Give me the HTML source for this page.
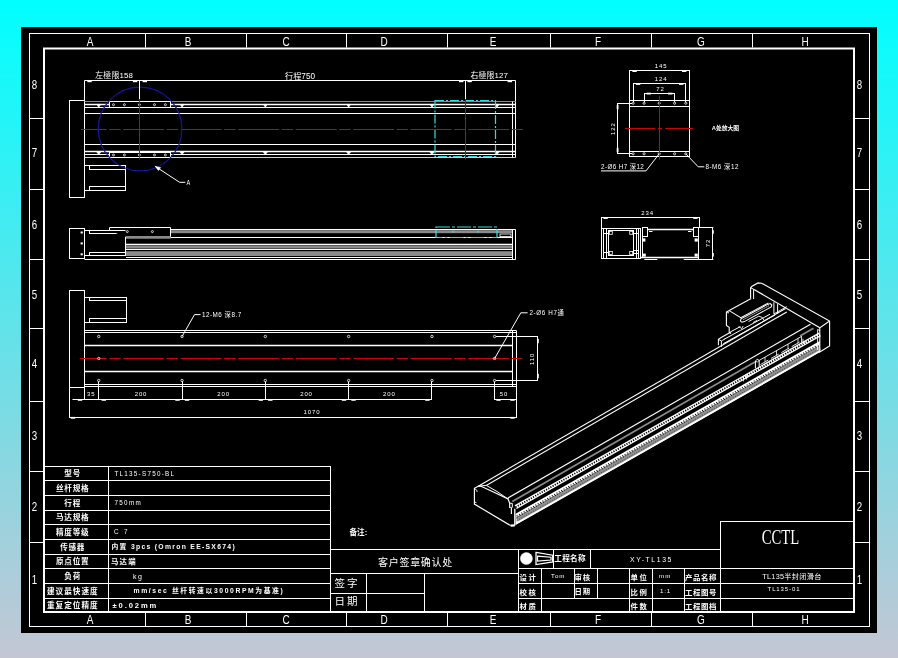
<!DOCTYPE html>
<html lang="zh">
<head>
<meta charset="utf-8">
<title>XY-TL135 TL135半封闭滑台</title>
<style>
html,body{margin:0;padding:0;}
body{width:898px;height:658px;overflow:hidden;background:linear-gradient(to bottom,#00ffff 0%,#c4c6d4 100%);}
svg{will-change:transform;display:block;position:absolute;left:0;top:0;}
text{white-space:pre;}
</style>
</head>
<body>
<svg width="898" height="658" viewBox="0 0 898 658">
<rect x="21" y="27" width="856" height="606" fill="#000"/>
<rect x="29.5" y="33.5" width="840" height="593" fill="none" stroke="#fff" stroke-width="1"/>
<rect x="44" y="48.5" width="810" height="563.5" fill="none" stroke="#fff" stroke-width="2"/>
<line x1="145.5" y1="33.5" x2="145.5" y2="47.5" stroke="#fff" stroke-width="1"/>
<line x1="145.5" y1="613" x2="145.5" y2="626" stroke="#fff" stroke-width="1"/>
<line x1="246.5" y1="33.5" x2="246.5" y2="47.5" stroke="#fff" stroke-width="1"/>
<line x1="246.5" y1="613" x2="246.5" y2="626" stroke="#fff" stroke-width="1"/>
<line x1="346.5" y1="33.5" x2="346.5" y2="47.5" stroke="#fff" stroke-width="1"/>
<line x1="346.5" y1="613" x2="346.5" y2="626" stroke="#fff" stroke-width="1"/>
<line x1="447.5" y1="33.5" x2="447.5" y2="47.5" stroke="#fff" stroke-width="1"/>
<line x1="447.5" y1="613" x2="447.5" y2="626" stroke="#fff" stroke-width="1"/>
<line x1="550.5" y1="33.5" x2="550.5" y2="47.5" stroke="#fff" stroke-width="1"/>
<line x1="550.5" y1="613" x2="550.5" y2="626" stroke="#fff" stroke-width="1"/>
<line x1="651.5" y1="33.5" x2="651.5" y2="47.5" stroke="#fff" stroke-width="1"/>
<line x1="651.5" y1="613" x2="651.5" y2="626" stroke="#fff" stroke-width="1"/>
<line x1="752.5" y1="33.5" x2="752.5" y2="47.5" stroke="#fff" stroke-width="1"/>
<line x1="752.5" y1="613" x2="752.5" y2="626" stroke="#fff" stroke-width="1"/>
<line x1="29.5" y1="118.5" x2="43" y2="118.5" stroke="#fff" stroke-width="1"/>
<line x1="855" y1="118.5" x2="869" y2="118.5" stroke="#fff" stroke-width="1"/>
<line x1="29.5" y1="189.5" x2="43" y2="189.5" stroke="#fff" stroke-width="1"/>
<line x1="855" y1="189.5" x2="869" y2="189.5" stroke="#fff" stroke-width="1"/>
<line x1="29.5" y1="259.5" x2="43" y2="259.5" stroke="#fff" stroke-width="1"/>
<line x1="855" y1="259.5" x2="869" y2="259.5" stroke="#fff" stroke-width="1"/>
<line x1="29.5" y1="328.5" x2="43" y2="328.5" stroke="#fff" stroke-width="1"/>
<line x1="855" y1="328.5" x2="869" y2="328.5" stroke="#fff" stroke-width="1"/>
<line x1="29.5" y1="401.5" x2="43" y2="401.5" stroke="#fff" stroke-width="1"/>
<line x1="855" y1="401.5" x2="869" y2="401.5" stroke="#fff" stroke-width="1"/>
<line x1="29.5" y1="471.5" x2="43" y2="471.5" stroke="#fff" stroke-width="1"/>
<line x1="855" y1="471.5" x2="869" y2="471.5" stroke="#fff" stroke-width="1"/>
<line x1="29.5" y1="542.5" x2="43" y2="542.5" stroke="#fff" stroke-width="1"/>
<line x1="855" y1="542.5" x2="869" y2="542.5" stroke="#fff" stroke-width="1"/>
<text font-size="12.5" fill="#fff" font-family='"Liberation Sans", "Noto Sans CJK SC", sans-serif' text-anchor="middle" transform="translate(90 45.6) scale(0.8 1)">A</text>
<text font-size="12.5" fill="#fff" font-family='"Liberation Sans", "Noto Sans CJK SC", sans-serif' text-anchor="middle" transform="translate(90 624) scale(0.8 1)">A</text>
<text font-size="12.5" fill="#fff" font-family='"Liberation Sans", "Noto Sans CJK SC", sans-serif' text-anchor="middle" transform="translate(188 45.6) scale(0.8 1)">B</text>
<text font-size="12.5" fill="#fff" font-family='"Liberation Sans", "Noto Sans CJK SC", sans-serif' text-anchor="middle" transform="translate(188 624) scale(0.8 1)">B</text>
<text font-size="12.5" fill="#fff" font-family='"Liberation Sans", "Noto Sans CJK SC", sans-serif' text-anchor="middle" transform="translate(286 45.6) scale(0.8 1)">C</text>
<text font-size="12.5" fill="#fff" font-family='"Liberation Sans", "Noto Sans CJK SC", sans-serif' text-anchor="middle" transform="translate(286 624) scale(0.8 1)">C</text>
<text font-size="12.5" fill="#fff" font-family='"Liberation Sans", "Noto Sans CJK SC", sans-serif' text-anchor="middle" transform="translate(384 45.6) scale(0.8 1)">D</text>
<text font-size="12.5" fill="#fff" font-family='"Liberation Sans", "Noto Sans CJK SC", sans-serif' text-anchor="middle" transform="translate(384 624) scale(0.8 1)">D</text>
<text font-size="12.5" fill="#fff" font-family='"Liberation Sans", "Noto Sans CJK SC", sans-serif' text-anchor="middle" transform="translate(493 45.6) scale(0.8 1)">E</text>
<text font-size="12.5" fill="#fff" font-family='"Liberation Sans", "Noto Sans CJK SC", sans-serif' text-anchor="middle" transform="translate(493 624) scale(0.8 1)">E</text>
<text font-size="12.5" fill="#fff" font-family='"Liberation Sans", "Noto Sans CJK SC", sans-serif' text-anchor="middle" transform="translate(598 45.6) scale(0.8 1)">F</text>
<text font-size="12.5" fill="#fff" font-family='"Liberation Sans", "Noto Sans CJK SC", sans-serif' text-anchor="middle" transform="translate(598 624) scale(0.8 1)">F</text>
<text font-size="12.5" fill="#fff" font-family='"Liberation Sans", "Noto Sans CJK SC", sans-serif' text-anchor="middle" transform="translate(701 45.6) scale(0.8 1)">G</text>
<text font-size="12.5" fill="#fff" font-family='"Liberation Sans", "Noto Sans CJK SC", sans-serif' text-anchor="middle" transform="translate(701 624) scale(0.8 1)">G</text>
<text font-size="12.5" fill="#fff" font-family='"Liberation Sans", "Noto Sans CJK SC", sans-serif' text-anchor="middle" transform="translate(805 45.6) scale(0.8 1)">H</text>
<text font-size="12.5" fill="#fff" font-family='"Liberation Sans", "Noto Sans CJK SC", sans-serif' text-anchor="middle" transform="translate(805 624) scale(0.8 1)">H</text>
<text font-size="12.5" fill="#fff" font-family='"Liberation Sans", "Noto Sans CJK SC", sans-serif' text-anchor="middle" transform="translate(34.5 89.3) scale(0.78 1)">8</text>
<text font-size="12.5" fill="#fff" font-family='"Liberation Sans", "Noto Sans CJK SC", sans-serif' text-anchor="middle" transform="translate(859.4 89.3) scale(0.78 1)">8</text>
<text font-size="12.5" fill="#fff" font-family='"Liberation Sans", "Noto Sans CJK SC", sans-serif' text-anchor="middle" transform="translate(34.5 156.7) scale(0.78 1)">7</text>
<text font-size="12.5" fill="#fff" font-family='"Liberation Sans", "Noto Sans CJK SC", sans-serif' text-anchor="middle" transform="translate(859.4 156.7) scale(0.78 1)">7</text>
<text font-size="12.5" fill="#fff" font-family='"Liberation Sans", "Noto Sans CJK SC", sans-serif' text-anchor="middle" transform="translate(34.5 228.8) scale(0.78 1)">6</text>
<text font-size="12.5" fill="#fff" font-family='"Liberation Sans", "Noto Sans CJK SC", sans-serif' text-anchor="middle" transform="translate(859.4 228.8) scale(0.78 1)">6</text>
<text font-size="12.5" fill="#fff" font-family='"Liberation Sans", "Noto Sans CJK SC", sans-serif' text-anchor="middle" transform="translate(34.5 299) scale(0.78 1)">5</text>
<text font-size="12.5" fill="#fff" font-family='"Liberation Sans", "Noto Sans CJK SC", sans-serif' text-anchor="middle" transform="translate(859.4 299) scale(0.78 1)">5</text>
<text font-size="12.5" fill="#fff" font-family='"Liberation Sans", "Noto Sans CJK SC", sans-serif' text-anchor="middle" transform="translate(34.5 368.1) scale(0.78 1)">4</text>
<text font-size="12.5" fill="#fff" font-family='"Liberation Sans", "Noto Sans CJK SC", sans-serif' text-anchor="middle" transform="translate(859.4 368.1) scale(0.78 1)">4</text>
<text font-size="12.5" fill="#fff" font-family='"Liberation Sans", "Noto Sans CJK SC", sans-serif' text-anchor="middle" transform="translate(34.5 440.2) scale(0.78 1)">3</text>
<text font-size="12.5" fill="#fff" font-family='"Liberation Sans", "Noto Sans CJK SC", sans-serif' text-anchor="middle" transform="translate(859.4 440.2) scale(0.78 1)">3</text>
<text font-size="12.5" fill="#fff" font-family='"Liberation Sans", "Noto Sans CJK SC", sans-serif' text-anchor="middle" transform="translate(34.5 510.9) scale(0.78 1)">2</text>
<text font-size="12.5" fill="#fff" font-family='"Liberation Sans", "Noto Sans CJK SC", sans-serif' text-anchor="middle" transform="translate(859.4 510.9) scale(0.78 1)">2</text>
<text font-size="12.5" fill="#fff" font-family='"Liberation Sans", "Noto Sans CJK SC", sans-serif' text-anchor="middle" transform="translate(34.5 583.9) scale(0.78 1)">1</text>
<text font-size="12.5" fill="#fff" font-family='"Liberation Sans", "Noto Sans CJK SC", sans-serif' text-anchor="middle" transform="translate(859.4 583.9) scale(0.78 1)">1</text>
<rect x="69.5" y="100.5" width="15" height="97" fill="none" stroke="#fff" stroke-width="1"/>
<rect x="84.5" y="165.5" width="41" height="25" fill="none" stroke="#fff" stroke-width="1"/>
<line x1="89" y1="169.5" x2="125.5" y2="169.5" stroke="#fff" stroke-width="1"/>
<line x1="89" y1="186.5" x2="125.5" y2="186.5" stroke="#fff" stroke-width="1"/>
<line x1="89.5" y1="165.5" x2="89.5" y2="169.6" stroke="#fff" stroke-width="1"/>
<line x1="89.5" y1="186.4" x2="89.5" y2="190" stroke="#fff" stroke-width="1"/>
<line x1="84.5" y1="101.5" x2="515.5" y2="101.5" stroke="#8a8a8a" stroke-width="1"/>
<line x1="84.5" y1="104.5" x2="515.5" y2="104.5" stroke="#fff" stroke-width="1.6"/>
<line x1="84.5" y1="107.5" x2="515.5" y2="107.5" stroke="#fff" stroke-width="1"/>
<line x1="84.5" y1="113.5" x2="515.5" y2="113.5" stroke="#fff" stroke-width="1"/>
<line x1="84.5" y1="144.5" x2="515.5" y2="144.5" stroke="#fff" stroke-width="1"/>
<line x1="84.5" y1="151.5" x2="515.5" y2="151.5" stroke="#fff" stroke-width="1.6"/>
<line x1="84.5" y1="154.5" x2="515.5" y2="154.5" stroke="#fff" stroke-width="1"/>
<line x1="84.5" y1="157.5" x2="515.5" y2="157.5" stroke="#d0d0d0" stroke-width="1"/>
<line x1="512.5" y1="101.5" x2="512.5" y2="157.5" stroke="#fff" stroke-width="1"/>
<line x1="515.5" y1="101.5" x2="515.5" y2="157.5" stroke="#fff" stroke-width="1"/>
<line x1="84.5" y1="80.5" x2="84.5" y2="100.5" stroke="#fff" stroke-width="1"/>
<path d="M96.75 104.4 L100.75 104.4 L98.75 107.2 Z" fill="#fff" stroke="#fff" stroke-width="0.6"/>
<path d="M96.75 152 L100.75 152 L98.75 154.8 Z" fill="#fff" stroke="#fff" stroke-width="0.6"/>
<path d="M180.05 104.4 L184.05 104.4 L182.05 107.2 Z" fill="#fff" stroke="#fff" stroke-width="0.6"/>
<path d="M180.05 152 L184.05 152 L182.05 154.8 Z" fill="#fff" stroke="#fff" stroke-width="0.6"/>
<path d="M263.35 104.4 L267.35 104.4 L265.35 107.2 Z" fill="#fff" stroke="#fff" stroke-width="0.6"/>
<path d="M263.35 152 L267.35 152 L265.35 154.8 Z" fill="#fff" stroke="#fff" stroke-width="0.6"/>
<path d="M346.65 104.4 L350.65 104.4 L348.65 107.2 Z" fill="#fff" stroke="#fff" stroke-width="0.6"/>
<path d="M346.65 152 L350.65 152 L348.65 154.8 Z" fill="#fff" stroke="#fff" stroke-width="0.6"/>
<path d="M429.95 104.4 L433.95 104.4 L431.95 107.2 Z" fill="#fff" stroke="#fff" stroke-width="0.6"/>
<path d="M429.95 152 L433.95 152 L431.95 154.8 Z" fill="#fff" stroke="#fff" stroke-width="0.6"/>
<path d="M495 104.4 L499 104.4 L497 107.2 Z" fill="#fff" stroke="#fff" stroke-width="0.6"/>
<path d="M495 152 L499 152 L497 154.8 Z" fill="#fff" stroke="#fff" stroke-width="0.6"/>
<rect x="109.5" y="101.8" width="61" height="5.2" fill="#000"/>
<rect x="109.5" y="101.5" width="61" height="6" fill="none" stroke="#fff" stroke-width="1"/>
<circle cx="113.5" cy="104.7" r="1" fill="none" stroke="#fff" stroke-width="0.8"/>
<circle cx="124.4" cy="104.7" r="1" fill="none" stroke="#fff" stroke-width="0.8"/>
<circle cx="139.4" cy="104.7" r="1" fill="none" stroke="#fff" stroke-width="0.8"/>
<circle cx="154.5" cy="104.7" r="1" fill="none" stroke="#fff" stroke-width="0.8"/>
<circle cx="165.4" cy="104.7" r="1" fill="none" stroke="#fff" stroke-width="0.8"/>
<rect x="109.5" y="152" width="61" height="5.3" fill="#000"/>
<rect x="109.5" y="152.5" width="61" height="5" fill="none" stroke="#fff" stroke-width="1"/>
<circle cx="113.5" cy="154.95" r="1" fill="none" stroke="#fff" stroke-width="0.8"/>
<circle cx="124.4" cy="154.95" r="1" fill="none" stroke="#fff" stroke-width="0.8"/>
<circle cx="139.4" cy="154.95" r="1" fill="none" stroke="#fff" stroke-width="0.8"/>
<circle cx="154.5" cy="154.95" r="1" fill="none" stroke="#fff" stroke-width="0.8"/>
<circle cx="165.4" cy="154.95" r="1" fill="none" stroke="#fff" stroke-width="0.8"/>
<rect x="435" y="100.5" width="60.5" height="56" fill="none" stroke="#35dcdc" stroke-width="1.2" stroke-dasharray="9 2 2 2"/>
<line x1="81" y1="129.5" x2="523" y2="129.5" stroke="#c80505" stroke-width="1.05" stroke-dasharray="41 2.5 11.5 2.5" stroke-dashoffset="15.4"/>
<line x1="139.5" y1="99" x2="139.5" y2="159.5" stroke="#c80505" stroke-width="1.05"/>
<line x1="465.5" y1="99" x2="465.5" y2="159.5" stroke="#c80505" stroke-width="1.05"/>
<circle cx="140.1" cy="129" r="41.8" fill="none" stroke="#1515a2" stroke-width="1.2"/>
<line x1="84.5" y1="80.5" x2="515.5" y2="80.5" stroke="#fff" stroke-width="1"/>
<line x1="139.5" y1="80.5" x2="139.5" y2="99" stroke="#fff" stroke-width="1"/>
<line x1="465.5" y1="80.5" x2="465.5" y2="99" stroke="#fff" stroke-width="1"/>
<line x1="515.5" y1="80.5" x2="515.5" y2="101" stroke="#fff" stroke-width="1"/>
<rect x="87.3" y="80.4" width="4.4" height="1.8" fill="#fff"/>
<rect x="132.9" y="80.4" width="4.4" height="1.8" fill="#fff"/>
<rect x="142.6" y="80.4" width="4.4" height="1.8" fill="#fff"/>
<rect x="459" y="80.4" width="4.4" height="1.8" fill="#fff"/>
<rect x="467.4" y="80.4" width="4.4" height="1.8" fill="#fff"/>
<rect x="507.6" y="80.4" width="4.4" height="1.8" fill="#fff"/>
<text font-size="7.9" fill="#fff" font-family='"Liberation Sans", "Noto Sans CJK SC", sans-serif' text-anchor="middle" letter-spacing="0.15" transform="translate(114.2 78.4)">左極限158</text>
<text font-size="8.2" fill="#fff" font-family='"Liberation Sans", "Noto Sans CJK SC", sans-serif' text-anchor="middle" transform="translate(300 79.3)">行程750</text>
<text font-size="7.9" fill="#fff" font-family='"Liberation Sans", "Noto Sans CJK SC", sans-serif' text-anchor="middle" letter-spacing="0.15" transform="translate(489.3 78.4)">右極限127</text>
<path d="M155.3 166.4 L179.6 182.3 L185.4 182.3" fill="none" stroke="#fff" stroke-width="1"/>
<path d="M155.3 166.4 L160.6 167.6 L158.4 170.6 Z" fill="#fff" stroke="#fff" stroke-width="0.5"/>
<text font-size="7" fill="#fff" font-family='"Liberation Sans", "Noto Sans CJK SC", sans-serif' transform="translate(186.5 184.8) scale(0.8 1)">A</text>
<rect x="69.5" y="228.5" width="15" height="30" fill="none" stroke="#fff" stroke-width="1"/>
<rect x="80.6" y="231.5" width="2.2" height="2" fill="#fff"/>
<rect x="80.6" y="242.4" width="2.2" height="2" fill="#fff"/>
<rect x="80.6" y="253.3" width="2.2" height="2" fill="#fff"/>
<rect x="170.5" y="230.2" width="341.5" height="3" fill="#8a8a8a"/>
<line x1="170.5" y1="229.5" x2="515.5" y2="229.5" stroke="#fff" stroke-width="1"/>
<rect x="126" y="235.8" width="44.5" height="2.6" fill="#8a8a8a"/>
<line x1="170.5" y1="237.5" x2="512" y2="237.5" stroke="#fff" stroke-width="1"/>
<line x1="126" y1="244.5" x2="512" y2="244.5" stroke="#fff" stroke-width="1.4"/>
<rect x="126" y="245.6" width="386" height="3" fill="#8a8a8a"/>
<line x1="126" y1="249.5" x2="512" y2="249.5" stroke="#fff" stroke-width="1.2"/>
<rect x="126" y="251.2" width="386" height="4.8" fill="#8a8a8a"/>
<line x1="126" y1="257.5" x2="512" y2="257.5" stroke="#fff" stroke-width="1"/>
<line x1="84.5" y1="259.5" x2="515.5" y2="259.5" stroke="#fff" stroke-width="1"/>
<line x1="512.5" y1="229.5" x2="512.5" y2="259.5" stroke="#fff" stroke-width="1"/>
<line x1="515.5" y1="229.5" x2="515.5" y2="259.5" stroke="#fff" stroke-width="1"/>
<rect x="500" y="234" width="11" height="2.6" fill="none" stroke="#fff" stroke-width="0.8"/>
<rect x="84.5" y="230.5" width="41" height="25" fill="none" stroke="#fff" stroke-width="1"/>
<line x1="89" y1="233.5" x2="125.5" y2="233.5" stroke="#fff" stroke-width="1"/>
<line x1="89" y1="252.5" x2="125.5" y2="252.5" stroke="#fff" stroke-width="1"/>
<line x1="89.5" y1="230" x2="89.5" y2="233.8" stroke="#fff" stroke-width="1"/>
<line x1="89.5" y1="252.4" x2="89.5" y2="255.2" stroke="#fff" stroke-width="1"/>
<path d="M109.5 230.5 L109.5 227.5 L170.5 227.5 L170.5 237 L125.5 237" fill="#000" stroke="#fff" stroke-width="1"/>
<line x1="109.5" y1="230.5" x2="125.5" y2="230.5" stroke="#fff" stroke-width="1"/>
<circle cx="127.3" cy="231.6" r="1" fill="none" stroke="#fff" stroke-width="0.8"/>
<circle cx="152.4" cy="231.6" r="1" fill="none" stroke="#fff" stroke-width="0.8"/>
<rect x="126" y="236" width="44.5" height="2.6" fill="#8a8a8a"/>
<rect x="436" y="227" width="61" height="10.5" fill="none" stroke="#35dcdc" stroke-width="1.2" stroke-dasharray="14 2 3 2"/>
<circle cx="453" cy="231.6" r="0.8" fill="none" stroke="#35dcdc" stroke-width="0.8"/>
<circle cx="478" cy="231.6" r="0.8" fill="none" stroke="#35dcdc" stroke-width="0.8"/>
<rect x="69.5" y="290.5" width="15" height="97" fill="none" stroke="#fff" stroke-width="1"/>
<rect x="84.5" y="297.5" width="42" height="25" fill="none" stroke="#fff" stroke-width="1"/>
<line x1="89" y1="300.5" x2="126" y2="300.5" stroke="#fff" stroke-width="1"/>
<line x1="89" y1="318.5" x2="126" y2="318.5" stroke="#fff" stroke-width="1"/>
<line x1="89.5" y1="297" x2="89.5" y2="300.6" stroke="#fff" stroke-width="1"/>
<line x1="89.5" y1="318.6" x2="89.5" y2="322" stroke="#fff" stroke-width="1"/>
<line x1="84.5" y1="330.5" x2="516.3" y2="330.5" stroke="#fff" stroke-width="1"/>
<line x1="84.5" y1="332.5" x2="516.3" y2="332.5" stroke="#fff" stroke-width="1"/>
<line x1="84.5" y1="345.5" x2="512.8" y2="345.5" stroke="#fff" stroke-width="1.6"/>
<line x1="84.5" y1="371.5" x2="512.8" y2="371.5" stroke="#fff" stroke-width="1.6"/>
<line x1="84.5" y1="384.5" x2="516.3" y2="384.5" stroke="#fff" stroke-width="1"/>
<line x1="84.5" y1="386.5" x2="516.3" y2="386.5" stroke="#fff" stroke-width="1"/>
<line x1="512.5" y1="330.5" x2="512.5" y2="387" stroke="#fff" stroke-width="1"/>
<line x1="516.5" y1="330.5" x2="516.5" y2="418" stroke="#fff" stroke-width="1"/>
<line x1="80" y1="358.5" x2="522" y2="358.5" stroke="#c80505" stroke-width="1.05" stroke-dasharray="41 2.5 11.5 2.5" stroke-dashoffset="14.4"/>
<circle cx="98.75" cy="336.5" r="1.2" fill="none" stroke="#fff" stroke-width="0.8"/>
<circle cx="98.75" cy="380.5" r="1.2" fill="none" stroke="#fff" stroke-width="0.8"/>
<circle cx="182.05" cy="336.5" r="1.2" fill="none" stroke="#fff" stroke-width="0.8"/>
<circle cx="182.05" cy="380.5" r="1.2" fill="none" stroke="#fff" stroke-width="0.8"/>
<circle cx="265.35" cy="336.5" r="1.2" fill="none" stroke="#fff" stroke-width="0.8"/>
<circle cx="265.35" cy="380.5" r="1.2" fill="none" stroke="#fff" stroke-width="0.8"/>
<circle cx="348.65" cy="336.5" r="1.2" fill="none" stroke="#fff" stroke-width="0.8"/>
<circle cx="348.65" cy="380.5" r="1.2" fill="none" stroke="#fff" stroke-width="0.8"/>
<circle cx="431.95" cy="336.5" r="1.2" fill="none" stroke="#fff" stroke-width="0.8"/>
<circle cx="431.95" cy="380.5" r="1.2" fill="none" stroke="#fff" stroke-width="0.8"/>
<circle cx="494.6" cy="336.5" r="1.2" fill="none" stroke="#fff" stroke-width="0.8"/>
<circle cx="494.6" cy="380.5" r="1.2" fill="none" stroke="#fff" stroke-width="0.8"/>
<circle cx="98.75" cy="358.5" r="1.2" fill="none" stroke="#fff" stroke-width="0.8"/>
<circle cx="494.6" cy="358.5" r="1.2" fill="none" stroke="#fff" stroke-width="0.8"/>
<line x1="98.5" y1="381.5" x2="98.5" y2="400" stroke="#fff" stroke-width="1"/>
<line x1="182.5" y1="381.5" x2="182.5" y2="400" stroke="#fff" stroke-width="1"/>
<line x1="265.5" y1="381.5" x2="265.5" y2="400" stroke="#fff" stroke-width="1"/>
<line x1="348.5" y1="381.5" x2="348.5" y2="400" stroke="#fff" stroke-width="1"/>
<line x1="431.5" y1="381.5" x2="431.5" y2="400" stroke="#fff" stroke-width="1"/>
<line x1="494.5" y1="381.5" x2="494.5" y2="400" stroke="#fff" stroke-width="1"/>
<line x1="84.5" y1="387" x2="84.5" y2="400" stroke="#fff" stroke-width="1"/>
<line x1="72.5" y1="399.5" x2="432" y2="399.5" stroke="#fff" stroke-width="1"/>
<line x1="494.6" y1="399.5" x2="516.3" y2="399.5" stroke="#fff" stroke-width="1"/>
<rect x="77.8" y="399" width="4.4" height="1.8" fill="#fff"/>
<rect x="101.6" y="399" width="4.4" height="1.8" fill="#fff"/>
<rect x="175.3" y="399" width="4.4" height="1.8" fill="#fff"/>
<rect x="184.8" y="399" width="4.4" height="1.8" fill="#fff"/>
<rect x="258.6" y="399" width="4.4" height="1.8" fill="#fff"/>
<rect x="268.1" y="399" width="4.4" height="1.8" fill="#fff"/>
<rect x="341.8" y="399" width="4.4" height="1.8" fill="#fff"/>
<rect x="351.3" y="399" width="4.4" height="1.8" fill="#fff"/>
<rect x="425.2" y="399" width="4.4" height="1.8" fill="#fff"/>
<rect x="496.3" y="399" width="4.4" height="1.8" fill="#fff"/>
<rect x="510.3" y="399" width="4.4" height="1.8" fill="#fff"/>
<text font-size="6" fill="#fff" font-family='"Liberation Sans", "Noto Sans CJK SC", sans-serif' text-anchor="middle" letter-spacing="0.9" transform="translate(91.3 396)">35</text>
<text font-size="6" fill="#fff" font-family='"Liberation Sans", "Noto Sans CJK SC", sans-serif' text-anchor="middle" letter-spacing="0.9" transform="translate(141 396)">200</text>
<text font-size="6" fill="#fff" font-family='"Liberation Sans", "Noto Sans CJK SC", sans-serif' text-anchor="middle" letter-spacing="0.9" transform="translate(223.6 396)">200</text>
<text font-size="6" fill="#fff" font-family='"Liberation Sans", "Noto Sans CJK SC", sans-serif' text-anchor="middle" letter-spacing="0.9" transform="translate(306.5 396)">200</text>
<text font-size="6" fill="#fff" font-family='"Liberation Sans", "Noto Sans CJK SC", sans-serif' text-anchor="middle" letter-spacing="0.9" transform="translate(389.3 396)">200</text>
<text font-size="6" fill="#fff" font-family='"Liberation Sans", "Noto Sans CJK SC", sans-serif' text-anchor="middle" letter-spacing="0.9" transform="translate(504 396)">50</text>
<line x1="69.5" y1="387" x2="69.5" y2="418" stroke="#fff" stroke-width="1"/>
<line x1="69.5" y1="417.5" x2="516.3" y2="417.5" stroke="#fff" stroke-width="1"/>
<rect x="70.8" y="416.9" width="4.4" height="1.8" fill="#fff"/>
<rect x="510.3" y="416.9" width="4.4" height="1.8" fill="#fff"/>
<text font-size="6" fill="#fff" font-family='"Liberation Sans", "Noto Sans CJK SC", sans-serif' text-anchor="middle" letter-spacing="0.9" transform="translate(312 413.8)">1070</text>
<path d="M182.05 336.5 L194.5 314.6 L200.5 314.6" fill="none" stroke="#fff" stroke-width="1"/>
<text font-size="6.3" fill="#fff" font-family='"Liberation Sans", "Noto Sans CJK SC", sans-serif' letter-spacing="0.5" transform="translate(202 316.6)">12-M6 深8.7</text>
<path d="M494.6 358.5 L520.8 312.8 L527.6 312.8" fill="none" stroke="#fff" stroke-width="1"/>
<text font-size="6.3" fill="#fff" font-family='"Liberation Sans", "Noto Sans CJK SC", sans-serif' letter-spacing="0.6" transform="translate(529.5 315)">2-Ø6 H7通</text>
<line x1="496" y1="336.5" x2="538" y2="336.5" stroke="#fff" stroke-width="1"/>
<line x1="496" y1="380.5" x2="538" y2="380.5" stroke="#fff" stroke-width="1"/>
<line x1="537.5" y1="336.5" x2="537.5" y2="380.5" stroke="#fff" stroke-width="1"/>
<rect x="537" y="338.8" width="1.8" height="4.4" fill="#fff"/>
<rect x="537" y="373.8" width="1.8" height="4.4" fill="#fff"/>
<text font-size="6" fill="#fff" font-family='"Liberation Sans", "Noto Sans CJK SC", sans-serif' text-anchor="middle" letter-spacing="0.9" transform="translate(534.3 358.8) rotate(-90)">110</text>
<rect x="629.5" y="100.5" width="60" height="56" fill="none" stroke="#fff" stroke-width="1"/>
<line x1="629.5" y1="106.5" x2="689.5" y2="106.5" stroke="#fff" stroke-width="1"/>
<line x1="629.5" y1="151.5" x2="689.5" y2="151.5" stroke="#fff" stroke-width="1"/>
<circle cx="633.1" cy="103.2" r="1.1" fill="none" stroke="#fff" stroke-width="0.8"/>
<circle cx="633.1" cy="153.8" r="1.1" fill="none" stroke="#fff" stroke-width="0.8"/>
<circle cx="644.1" cy="103.2" r="1.1" fill="none" stroke="#fff" stroke-width="0.8"/>
<circle cx="644.1" cy="153.8" r="1.1" fill="none" stroke="#fff" stroke-width="0.8"/>
<circle cx="659.2" cy="103.2" r="1.1" fill="none" stroke="#fff" stroke-width="0.8"/>
<circle cx="659.2" cy="153.8" r="1.1" fill="none" stroke="#fff" stroke-width="0.8"/>
<circle cx="674.6" cy="103.2" r="1.1" fill="none" stroke="#fff" stroke-width="0.8"/>
<circle cx="674.6" cy="153.8" r="1.1" fill="none" stroke="#fff" stroke-width="0.8"/>
<circle cx="685.8" cy="103.2" r="1.1" fill="none" stroke="#fff" stroke-width="0.8"/>
<circle cx="685.8" cy="153.8" r="1.1" fill="none" stroke="#fff" stroke-width="0.8"/>
<line x1="659.5" y1="96" x2="659.5" y2="159.6" stroke="#c80505" stroke-width="1.05"/>
<line x1="625" y1="128.5" x2="693.5" y2="128.5" stroke="#c80505" stroke-width="1.05" stroke-dasharray="30 3 4 3"/>
<line x1="629.5" y1="70.5" x2="689.5" y2="70.5" stroke="#fff" stroke-width="1"/>
<line x1="629.5" y1="70" x2="629.5" y2="100.5" stroke="#fff" stroke-width="1"/>
<line x1="689.5" y1="70" x2="689.5" y2="100.5" stroke="#fff" stroke-width="1"/>
<rect x="632.4" y="70.2" width="4.4" height="1.8" fill="#fff"/>
<rect x="682" y="70.2" width="4.4" height="1.8" fill="#fff"/>
<text font-size="6" fill="#fff" font-family='"Liberation Sans", "Noto Sans CJK SC", sans-serif' text-anchor="middle" letter-spacing="0.9" transform="translate(661.2 67.6)">145</text>
<line x1="633.1" y1="83.5" x2="685.8" y2="83.5" stroke="#fff" stroke-width="1"/>
<line x1="633.5" y1="83" x2="633.5" y2="102" stroke="#fff" stroke-width="1"/>
<line x1="685.5" y1="83" x2="685.5" y2="102" stroke="#fff" stroke-width="1"/>
<rect x="635.9" y="83.1" width="4.4" height="1.8" fill="#fff"/>
<rect x="679" y="83.1" width="4.4" height="1.8" fill="#fff"/>
<text font-size="6" fill="#fff" font-family='"Liberation Sans", "Noto Sans CJK SC", sans-serif' text-anchor="middle" letter-spacing="0.9" transform="translate(661.2 80.8)">124</text>
<line x1="644.1" y1="93.5" x2="674.6" y2="93.5" stroke="#fff" stroke-width="1"/>
<line x1="644.5" y1="93" x2="644.5" y2="102" stroke="#fff" stroke-width="1"/>
<line x1="674.5" y1="93" x2="674.5" y2="102" stroke="#fff" stroke-width="1"/>
<rect x="646.5" y="92.7" width="4.4" height="1.8" fill="#fff"/>
<rect x="668" y="92.7" width="4.4" height="1.8" fill="#fff"/>
<text font-size="6" fill="#fff" font-family='"Liberation Sans", "Noto Sans CJK SC", sans-serif' text-anchor="middle" letter-spacing="0.9" transform="translate(660.5 90.8)">72</text>
<line x1="617.5" y1="103.5" x2="617.5" y2="153.5" stroke="#fff" stroke-width="1"/>
<line x1="617" y1="103.5" x2="632" y2="103.5" stroke="#fff" stroke-width="1"/>
<line x1="617" y1="153.5" x2="632" y2="153.5" stroke="#fff" stroke-width="1"/>
<rect x="616.7" y="104.8" width="1.8" height="4.4" fill="#fff"/>
<rect x="616.7" y="147.8" width="1.8" height="4.4" fill="#fff"/>
<text font-size="6" fill="#fff" font-family='"Liberation Sans", "Noto Sans CJK SC", sans-serif' text-anchor="middle" letter-spacing="0.9" transform="translate(614.6 128.6) rotate(-90)">122</text>
<path d="M601 170.9 L646 170.9 L659.2 153.8" fill="none" stroke="#fff" stroke-width="1"/>
<text font-size="6.3" fill="#fff" font-family='"Liberation Sans", "Noto Sans CJK SC", sans-serif' letter-spacing="0.4" transform="translate(601 168.6)">2-Ø6 H7 深12</text>
<path d="M685.8 153.8 L698.2 166.8 L704.3 166.8" fill="none" stroke="#fff" stroke-width="1"/>
<text font-size="6.3" fill="#fff" font-family='"Liberation Sans", "Noto Sans CJK SC", sans-serif' letter-spacing="0.5" transform="translate(705.5 169)">8-M6 深12</text>
<text font-size="6" fill="#fff" font-family='"Liberation Sans", "Noto Sans CJK SC", sans-serif' font-weight="bold" textLength="27.4" lengthAdjust="spacingAndGlyphs" transform="translate(711.7 130.3)">A处放大图</text>
<line x1="601.5" y1="217.5" x2="699.5" y2="217.5" stroke="#fff" stroke-width="1"/>
<line x1="601.5" y1="217" x2="601.5" y2="229" stroke="#fff" stroke-width="1"/>
<line x1="699.5" y1="217" x2="699.5" y2="228" stroke="#fff" stroke-width="1"/>
<rect x="603.4" y="217.1" width="4.4" height="1.8" fill="#fff"/>
<rect x="693.2" y="217.1" width="4.4" height="1.8" fill="#fff"/>
<text font-size="6" fill="#fff" font-family='"Liberation Sans", "Noto Sans CJK SC", sans-serif' text-anchor="middle" letter-spacing="0.9" transform="translate(647.6 214.8)">234</text>
<rect x="601.5" y="228.5" width="39" height="30" fill="none" stroke="#fff" stroke-width="1"/>
<line x1="603.5" y1="229" x2="603.5" y2="258" stroke="#fff" stroke-width="1"/>
<line x1="606.5" y1="229" x2="606.5" y2="258" stroke="#fff" stroke-width="1"/>
<line x1="636.5" y1="229" x2="636.5" y2="258" stroke="#fff" stroke-width="1"/>
<line x1="638.5" y1="229" x2="638.5" y2="258" stroke="#fff" stroke-width="1"/>
<rect x="608.5" y="230.5" width="25" height="25" fill="none" stroke="#fff" stroke-width="1"/>
<rect x="609.3" y="231.3" width="3" height="3" fill="none" stroke="#fff" stroke-width="0.8"/>
<rect x="629.7" y="231.3" width="3" height="3" fill="none" stroke="#fff" stroke-width="0.8"/>
<rect x="609.3" y="251.5" width="3" height="3" fill="none" stroke="#fff" stroke-width="0.8"/>
<rect x="629.7" y="251.5" width="3" height="3" fill="none" stroke="#fff" stroke-width="0.8"/>
<line x1="633.6" y1="233.5" x2="638.2" y2="233.5" stroke="#fff" stroke-width="1"/>
<line x1="633.6" y1="250.5" x2="638.2" y2="250.5" stroke="#fff" stroke-width="1"/>
<line x1="633.6" y1="253.5" x2="638.2" y2="253.5" stroke="#fff" stroke-width="1"/>
<line x1="603.4" y1="233.5" x2="608.5" y2="233.5" stroke="#fff" stroke-width="1"/>
<line x1="603.4" y1="252.5" x2="608.5" y2="252.5" stroke="#fff" stroke-width="1"/>
<rect x="642.5" y="227.5" width="5" height="9" fill="none" stroke="#fff" stroke-width="1"/>
<rect x="693.5" y="227.5" width="5" height="9" fill="none" stroke="#fff" stroke-width="1"/>
<line x1="647.1" y1="229.5" x2="693.3" y2="229.5" stroke="#fff" stroke-width="1.4"/>
<line x1="649" y1="231.5" x2="652.5" y2="231.5" stroke="#fff" stroke-width="1"/>
<line x1="688" y1="231.5" x2="691.5" y2="231.5" stroke="#fff" stroke-width="1"/>
<line x1="642.5" y1="236.6" x2="642.5" y2="258" stroke="#fff" stroke-width="1"/>
<line x1="698.5" y1="227.6" x2="698.5" y2="259.5" stroke="#fff" stroke-width="1"/>
<rect x="642.4" y="238.4" width="3" height="3.2" fill="#fff"/>
<rect x="694.6" y="238.4" width="3.2" height="3.2" fill="#fff"/>
<rect x="642.8" y="253.6" width="3" height="3" fill="#fff"/>
<rect x="694.6" y="253.6" width="3.2" height="3" fill="#fff"/>
<line x1="640.9" y1="257.5" x2="698.9" y2="257.5" stroke="#fff" stroke-width="1.4"/>
<line x1="644.3" y1="259.5" x2="657.4" y2="259.5" stroke="#fff" stroke-width="1"/>
<line x1="683.7" y1="259.5" x2="698.9" y2="259.5" stroke="#fff" stroke-width="1"/>
<line x1="699" y1="227.5" x2="713.4" y2="227.5" stroke="#fff" stroke-width="1"/>
<line x1="699" y1="259.5" x2="713.4" y2="259.5" stroke="#fff" stroke-width="1"/>
<line x1="712.5" y1="227.6" x2="712.5" y2="259.4" stroke="#fff" stroke-width="1"/>
<rect x="712" y="230.2" width="1.8" height="3.6" fill="#fff"/>
<rect x="712" y="253" width="1.8" height="3.6" fill="#fff"/>
<text font-size="6" fill="#fff" font-family='"Liberation Sans", "Noto Sans CJK SC", sans-serif' text-anchor="middle" letter-spacing="0.9" transform="translate(709.6 243) rotate(-90)">72</text>
<line x1="44" y1="466.5" x2="330" y2="466.5" stroke="#fff" stroke-width="1"/>
<line x1="44" y1="480.5" x2="330" y2="480.5" stroke="#fff" stroke-width="1"/>
<line x1="44" y1="495.5" x2="330" y2="495.5" stroke="#fff" stroke-width="1"/>
<line x1="44" y1="510.5" x2="330" y2="510.5" stroke="#fff" stroke-width="1"/>
<line x1="44" y1="524.5" x2="330" y2="524.5" stroke="#fff" stroke-width="1"/>
<line x1="44" y1="539.5" x2="330" y2="539.5" stroke="#fff" stroke-width="1"/>
<line x1="44" y1="554.5" x2="330" y2="554.5" stroke="#fff" stroke-width="1"/>
<line x1="44" y1="568.5" x2="330" y2="568.5" stroke="#fff" stroke-width="1"/>
<line x1="44" y1="583.5" x2="330" y2="583.5" stroke="#fff" stroke-width="1"/>
<line x1="44" y1="598.5" x2="330" y2="598.5" stroke="#fff" stroke-width="1"/>
<line x1="330.5" y1="466" x2="330.5" y2="612" stroke="#fff" stroke-width="1"/>
<line x1="108.5" y1="466" x2="108.5" y2="612" stroke="#fff" stroke-width="1"/>
<text font-size="7.6" fill="#fff" font-family='"Liberation Sans", "Noto Sans CJK SC", sans-serif' text-anchor="middle" letter-spacing="0.7" font-weight="bold" transform="translate(72.65 476.25)">型号</text>
<text font-size="6.3" fill="#fff" font-family='"Liberation Sans", "Noto Sans CJK SC", sans-serif' letter-spacing="1.25" transform="translate(114.5 475.95)">TL135-S750-BL</text>
<text font-size="7.6" fill="#fff" font-family='"Liberation Sans", "Noto Sans CJK SC", sans-serif' text-anchor="middle" letter-spacing="0.7" font-weight="bold" transform="translate(72.65 490.8)">丝杆规格</text>
<text font-size="7.6" fill="#fff" font-family='"Liberation Sans", "Noto Sans CJK SC", sans-serif' text-anchor="middle" letter-spacing="0.7" font-weight="bold" transform="translate(72.65 505.5)">行程</text>
<text font-size="6.3" fill="#fff" font-family='"Liberation Sans", "Noto Sans CJK SC", sans-serif' letter-spacing="1.3" transform="translate(114.5 505.2)">750mm</text>
<text font-size="7.6" fill="#fff" font-family='"Liberation Sans", "Noto Sans CJK SC", sans-serif' text-anchor="middle" letter-spacing="0.7" font-weight="bold" transform="translate(72.65 520.2)">马达规格</text>
<text font-size="7.6" fill="#fff" font-family='"Liberation Sans", "Noto Sans CJK SC", sans-serif' text-anchor="middle" letter-spacing="0.7" font-weight="bold" transform="translate(72.65 534.75)">精度等级</text>
<text font-size="6.3" fill="#fff" font-family='"Liberation Sans", "Noto Sans CJK SC", sans-serif' letter-spacing="1.8" transform="translate(114 534.45)">C 7</text>
<text font-size="7.6" fill="#fff" font-family='"Liberation Sans", "Noto Sans CJK SC", sans-serif' text-anchor="middle" letter-spacing="0.7" font-weight="bold" transform="translate(72.65 549.6)">传感器</text>
<text font-size="6.8" fill="#fff" font-family='"Liberation Sans", "Noto Sans CJK SC", sans-serif' letter-spacing="1.3" font-weight="bold" transform="translate(111.5 549.3)">内置 3pcs (Omron EE-SX674)</text>
<text font-size="7.6" fill="#fff" font-family='"Liberation Sans", "Noto Sans CJK SC", sans-serif' text-anchor="middle" letter-spacing="0.7" font-weight="bold" transform="translate(72.65 564.3)">原点位置</text>
<text font-size="7.4" fill="#fff" font-family='"Liberation Sans", "Noto Sans CJK SC", sans-serif' letter-spacing="1.2" font-weight="bold" transform="translate(111 564)">马达端</text>
<text font-size="7.6" fill="#fff" font-family='"Liberation Sans", "Noto Sans CJK SC", sans-serif' text-anchor="middle" letter-spacing="0.7" font-weight="bold" transform="translate(72.65 579)">负荷</text>
<text font-size="7" fill="#fff" font-family='"Liberation Sans", "Noto Sans CJK SC", sans-serif' letter-spacing="1.5" transform="translate(133 578.7)">kg</text>
<text font-size="7.6" fill="#fff" font-family='"Liberation Sans", "Noto Sans CJK SC", sans-serif' text-anchor="middle" letter-spacing="1" font-weight="bold" transform="translate(72.8 593.7)">建议最快速度</text>
<text font-size="6.8" fill="#fff" font-family='"Liberation Sans", "Noto Sans CJK SC", sans-serif' letter-spacing="1.6" font-weight="bold" transform="translate(133.5 593.4)">mm/sec 丝杆转速以3000RPM为基准)</text>
<text font-size="7.6" fill="#fff" font-family='"Liberation Sans", "Noto Sans CJK SC", sans-serif' text-anchor="middle" letter-spacing="1" font-weight="bold" transform="translate(72.8 607.9)">重复定位精度</text>
<text font-size="7.6" fill="#fff" font-family='"Liberation Sans", "Noto Sans CJK SC", sans-serif' letter-spacing="1.9" font-weight="bold" transform="translate(112.5 607.6)">±0.02mm</text>
<text font-size="7.6" fill="#fff" font-family='"Liberation Sans", "Noto Sans CJK SC", sans-serif' font-weight="bold" transform="translate(349.5 535.2)">备注:</text>
<line x1="330" y1="549.5" x2="720.5" y2="549.5" stroke="#fff" stroke-width="1"/>
<line x1="330" y1="573.5" x2="518" y2="573.5" stroke="#fff" stroke-width="1"/>
<line x1="330" y1="593.5" x2="424.2" y2="593.5" stroke="#fff" stroke-width="1"/>
<line x1="366.5" y1="573.5" x2="366.5" y2="612" stroke="#fff" stroke-width="1"/>
<line x1="424.5" y1="573.5" x2="424.5" y2="612" stroke="#fff" stroke-width="1"/>
<text font-size="10" fill="#fff" font-family='"Liberation Sans", "Noto Sans CJK SC", sans-serif' text-anchor="middle" letter-spacing="0.7" transform="translate(415.5 565.6)">客户签章确认处</text>
<text font-size="10.5" fill="#fff" font-family='"Liberation Sans", "Noto Sans CJK SC", sans-serif' letter-spacing="2" transform="translate(334.5 586.6)">签字</text>
<text font-size="10.5" fill="#fff" font-family='"Liberation Sans", "Noto Sans CJK SC", sans-serif' letter-spacing="2" transform="translate(334.5 604.6)">日期</text>
<line x1="518.5" y1="549" x2="518.5" y2="612" stroke="#fff" stroke-width="1"/>
<line x1="518" y1="568.5" x2="855" y2="568.5" stroke="#fff" stroke-width="1"/>
<line x1="518" y1="583.5" x2="855" y2="583.5" stroke="#fff" stroke-width="1"/>
<line x1="518" y1="598.5" x2="855" y2="598.5" stroke="#fff" stroke-width="1"/>
<line x1="553.5" y1="549" x2="553.5" y2="568" stroke="#fff" stroke-width="1"/>
<line x1="590.5" y1="549" x2="590.5" y2="568" stroke="#fff" stroke-width="1"/>
<line x1="541.5" y1="568" x2="541.5" y2="612" stroke="#fff" stroke-width="1"/>
<line x1="574.5" y1="568" x2="574.5" y2="598" stroke="#fff" stroke-width="1"/>
<line x1="597.5" y1="568" x2="597.5" y2="598" stroke="#fff" stroke-width="1"/>
<line x1="629.5" y1="568" x2="629.5" y2="612" stroke="#fff" stroke-width="1"/>
<line x1="652.5" y1="568" x2="652.5" y2="612" stroke="#fff" stroke-width="1"/>
<line x1="684.5" y1="568" x2="684.5" y2="612" stroke="#fff" stroke-width="1"/>
<line x1="720.5" y1="521" x2="720.5" y2="612" stroke="#fff" stroke-width="1"/>
<line x1="720.5" y1="521.5" x2="855" y2="521.5" stroke="#fff" stroke-width="1"/>
<circle cx="526.4" cy="558.6" r="6" fill="#fff" stroke="#fff" stroke-width="0.5"/>
<path d="M536 552.4 L552.7 555.2 L552.7 562 L536 564.6 Z" fill="none" stroke="#fff" stroke-width="1.3"/>
<path d="M537.5 556.2 L551 557.2 L551 560 L537.5 561 Z" fill="none" stroke="#fff" stroke-width="1.2"/>
<text font-size="7.6" fill="#fff" font-family='"Liberation Sans", "Noto Sans CJK SC", sans-serif' letter-spacing="0.3" font-weight="bold" transform="translate(554.3 561.2)">工程名称</text>
<text font-size="6.8" fill="#fff" font-family='"Liberation Sans", "Noto Sans CJK SC", sans-serif' text-anchor="middle" letter-spacing="1.6" transform="translate(651.5 562)">XY-TL135</text>
<text font-size="7.4" fill="#fff" font-family='"Liberation Sans", "Noto Sans CJK SC", sans-serif' letter-spacing="1.6" font-weight="bold" transform="translate(519.5 580)">设计</text>
<text font-size="7.4" fill="#fff" font-family='"Liberation Sans", "Noto Sans CJK SC", sans-serif' letter-spacing="1.6" font-weight="bold" transform="translate(519.5 595)">校核</text>
<text font-size="7.4" fill="#fff" font-family='"Liberation Sans", "Noto Sans CJK SC", sans-serif' letter-spacing="1.6" font-weight="bold" transform="translate(519.5 609.4)">材质</text>
<text font-size="6.2" fill="#fff" font-family='"Liberation Sans", "Noto Sans CJK SC", sans-serif' letter-spacing="0.8" transform="translate(551 577.5)">Tom</text>
<text font-size="7.4" fill="#fff" font-family='"Liberation Sans", "Noto Sans CJK SC", sans-serif' letter-spacing="0.8" font-weight="bold" transform="translate(574.6 580)">审核</text>
<text font-size="7.4" fill="#fff" font-family='"Liberation Sans", "Noto Sans CJK SC", sans-serif' letter-spacing="0.8" font-weight="bold" transform="translate(574.6 594)">日期</text>
<text font-size="7.4" fill="#fff" font-family='"Liberation Sans", "Noto Sans CJK SC", sans-serif' letter-spacing="1.6" font-weight="bold" transform="translate(630.5 580)">单位</text>
<text font-size="7.4" fill="#fff" font-family='"Liberation Sans", "Noto Sans CJK SC", sans-serif' letter-spacing="1.6" font-weight="bold" transform="translate(630.5 595)">比例</text>
<text font-size="7.4" fill="#fff" font-family='"Liberation Sans", "Noto Sans CJK SC", sans-serif' letter-spacing="1.6" font-weight="bold" transform="translate(630.5 609.4)">件数</text>
<text font-size="6.2" fill="#fff" font-family='"Liberation Sans", "Noto Sans CJK SC", sans-serif' letter-spacing="1" transform="translate(659 578.4)">mm</text>
<text font-size="6.2" fill="#fff" font-family='"Liberation Sans", "Noto Sans CJK SC", sans-serif' letter-spacing="0.8" transform="translate(660 592.6)">1:1</text>
<text font-size="7.4" fill="#fff" font-family='"Liberation Sans", "Noto Sans CJK SC", sans-serif' letter-spacing="0.6" font-weight="bold" transform="translate(685 580)">产品名称</text>
<text font-size="7.4" fill="#fff" font-family='"Liberation Sans", "Noto Sans CJK SC", sans-serif' letter-spacing="0.6" font-weight="bold" transform="translate(685 595)">工程图号</text>
<text font-size="7.4" fill="#fff" font-family='"Liberation Sans", "Noto Sans CJK SC", sans-serif' letter-spacing="0.6" font-weight="bold" transform="translate(685 609.4)">工程图档</text>
<text font-size="7.2" fill="#fff" font-family='"Liberation Sans", "Noto Sans CJK SC", sans-serif' text-anchor="middle" letter-spacing="0.3" transform="translate(792 579.4)">TL135半封闭滑台</text>
<text font-size="6" fill="#fff" font-family='"Liberation Sans", "Noto Sans CJK SC", sans-serif' text-anchor="middle" letter-spacing="0.9" transform="translate(784 590.6)">TL135-01</text>
<text font-size="21" fill="#fff" font-family='"Liberation Serif", "Noto Serif CJK SC", serif' text-anchor="middle" textLength="37.5" lengthAdjust="spacingAndGlyphs" transform="translate(780.5 544.2)">CCTL</text>
<g stroke-linecap="butt" stroke-linejoin="miter">
<path d="M515.6 513.75 L819.8 341 L819.8 352 L515.6 524.75 Z" fill="#fff" stroke="none" stroke-width="0"/>
<path d="M516.6 519.58 L819.8 347.4" fill="none" stroke="#8e8e8e" stroke-width="4.6"/>
<path d="M516.6 515.98 L819.8 343.8" fill="none" stroke="#000" stroke-width="1.1" stroke-dasharray="1 1.7"/>
<path d="M517.4 517.12 L819.8 345.4" fill="none" stroke="#000" stroke-width="1" stroke-dasharray="1 1.7"/>
<path d="M516.6 520.78 L819.8 348.6" fill="none" stroke="#444" stroke-width="1" stroke-dasharray="1 1.7"/>
<path d="M515.6 524.35 L819.8 351.6" fill="none" stroke="#fff" stroke-width="1.2"/>
<path d="M515.6 507.15 L819.8 334.4" fill="none" stroke="#fff" stroke-width="4.2"/>
<path d="M515.6 507.15 L819.8 334.4" fill="none" stroke="#000" stroke-width="1.8" stroke-dasharray="1.2 1.3"/>
<path d="M512.3 501.6 L755 361.96" fill="none" stroke="#8a8a8a" stroke-width="1.7"/>
<path d="M800 336.07 L813.5 328.3" fill="none" stroke="#8a8a8a" stroke-width="1.7"/>
<path d="M508 497.9 L810.5 324.2" fill="none" stroke="#fff" stroke-width="1.15"/>
<path d="M508 497.9 L508 499" fill="none" stroke="#fff" stroke-width="1"/>
<path d="M478.2 486.2 L785.5 308.6" fill="none" stroke="#fff" stroke-width="1.1"/>
<path d="M486.3 485.4 L786.8 311.9" fill="none" stroke="#fff" stroke-width="1.1"/>
<path d="M510.6 525.6 L474.4 504.1 L474.4 488.3 L478.2 486.2 L481 486.2 L494 492.2 L508 499 L509.7 503.2 L509.7 507.5 L511.4 507.8 L511.4 514" fill="none" stroke="#fff" stroke-width="1.15"/>
<path d="M478.2 486.2 L486.3 485.4 L497 491.5 L508 499" fill="none" stroke="#fff" stroke-width="1"/>
<path d="M509.7 503.2 L512.3 503.4 L512.3 507.6" fill="none" stroke="#fff" stroke-width="1"/>
<path d="M514.8 508.8 L514.8 525.4" fill="none" stroke="#fff" stroke-width="1.3"/>
<path d="M510.6 525.6 L514.8 525.4" fill="none" stroke="#fff" stroke-width="2.2"/>
<path d="M474.4 488.3 L477 490.5 L477 492" fill="none" stroke="#fff" stroke-width="0.9"/>
<path d="M474.4 502 L476.4 502.6" fill="none" stroke="#fff" stroke-width="0.9"/>
<path d="M750.6 298.1 L750.6 287.8 L752 286.3 L758 282.9 L761.5 283.2 L829.6 321 L829.6 345.9 L819.8 352 L819.8 327.7 L829.6 321" fill="none" stroke="#fff" stroke-width="1.1"/>
<path d="M753.6 289.2 L819.8 327.7" fill="none" stroke="#fff" stroke-width="1.1"/>
<path d="M750.6 287.8 L753.6 289.2 L753.6 299" fill="none" stroke="#fff" stroke-width="1"/>
<path d="M773.9 302.2 L773.9 313.9" fill="none" stroke="#fff" stroke-width="1"/>
<path d="M777.6 304.2 L777.6 313.9" fill="none" stroke="#fff" stroke-width="1"/>
<path d="M773.9 313.9 L786.8 306.6" fill="none" stroke="#fff" stroke-width="0.9"/>
<path d="M819.8 330.5 L817.6 329.5 L817.6 350" fill="none" stroke="#fff" stroke-width="0.9"/>
<path d="M731 333.5 L729.2 332.3 L729.2 327.4 L726.4 325.5 L726.4 312 L729.2 310.6 L751.2 298.6" fill="none" stroke="#fff" stroke-width="1.1"/>
<path d="M729.2 310.6 L740.8 317.6 L768.4 302.9" fill="none" stroke="#fff" stroke-width="1.05"/>
<path d="M726.4 312 L728.4 313.2 L728.4 311.6" fill="none" stroke="#fff" stroke-width="0.8"/>
<path d="M741.6 322.2 L740.4 320.8 L741 318.9 L767.6 304.4 L770.2 303.6 L771.8 305 L771.2 307 L744.4 321.6 L741.6 322.2" fill="none" stroke="#fff" stroke-width="1.05"/>
<path d="M743.4 319.6 L768.8 305.7" fill="none" stroke="#fff" stroke-width="1" stroke-dasharray="1.3 1"/>
<path d="M748.5 321.6 L752 319.7 L758.8 316.2 L762.2 317.4 L764.2 320.5" fill="none" stroke="#fff" stroke-width="0.9"/>
<path d="M753 322.6 L757 320.4" fill="none" stroke="#fff" stroke-width="0.9"/>
<path d="M718.4 345.3 L718.4 339.4 L721.6 337.2 L731 332" fill="none" stroke="#fff" stroke-width="1.05"/>
<path d="M718.4 339.4 L721.4 341 L721.4 346.8" fill="none" stroke="#fff" stroke-width="0.95"/>
<path d="M721.4 341 L724.6 339" fill="none" stroke="#fff" stroke-width="0.9"/>
<path d="M723.6 339.6 L740.4 330.4 L770 314.2" fill="none" stroke="#fff" stroke-width="1"/>
<path d="M723.2 343.8 L775 315" fill="none" stroke="#fff" stroke-width="1"/>
<path d="M730.6 331.8 L740.4 326.6" fill="none" stroke="#fff" stroke-width="1"/>
<path d="M738.6 326.4 L741.8 328.6 L743.2 326" fill="none" stroke="#fff" stroke-width="0.9"/>
<path d="M755.4 368.2 L755.4 361 L757.2 359.4 L759.2 360.4 L759.2 367.2" fill="none" stroke="#fff" stroke-width="1"/>
<path d="M755.4 361 L757.4 362.2 L759.2 360.4" fill="none" stroke="#fff" stroke-width="0.8"/>
<path d="M759.2 360.4 L801.6 336.4" fill="none" stroke="#fff" stroke-width="0.9"/>
<path d="M760.5 364.5 L800.5 341.6" fill="none" stroke="#fff" stroke-width="0.9" stroke-dasharray="9 3"/>
<path d="M765 357.12 L765 361.72" fill="none" stroke="#fff" stroke-width="0.8"/>
<path d="M776.5 350.61 L776.5 355.21" fill="none" stroke="#fff" stroke-width="0.8"/>
<path d="M788 344.1 L788 348.7" fill="none" stroke="#fff" stroke-width="0.8"/>
<path d="M798 338.44 L798 343.04" fill="none" stroke="#fff" stroke-width="0.8"/>
<path d="M801.6 336.4 L801.6 342.5" fill="none" stroke="#fff" stroke-width="0.9"/>
<path d="M803 338.8 L803 343.6 L806.4 341.7" fill="none" stroke="#fff" stroke-width="0.8"/>
<path d="M743.5 381.4 L743.5 376.2 L746.6 374.4 L746.6 379.6" fill="none" stroke="#fff" stroke-width="0.8"/>
<path d="M746.6 376.8 L753.4 372.9" fill="none" stroke="#fff" stroke-width="0.8"/>
</g>

</svg>
</body>
</html>
